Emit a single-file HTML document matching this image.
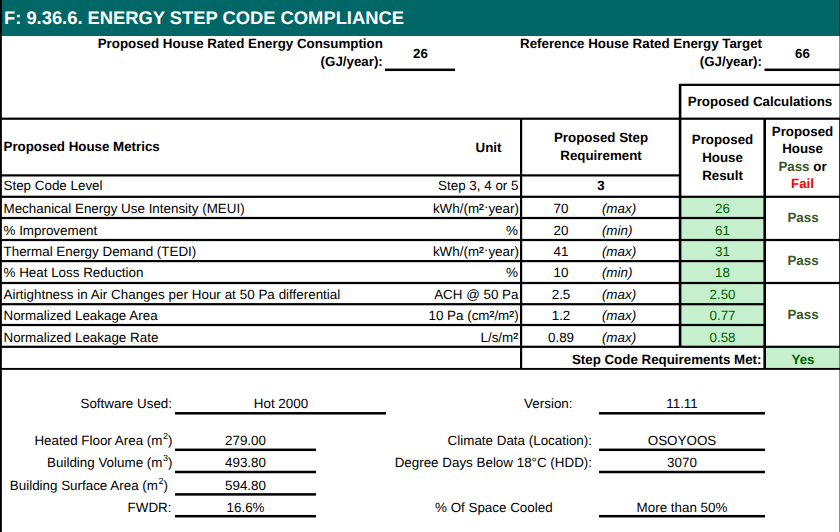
<!DOCTYPE html>
<html><head><meta charset="utf-8"><title>Energy Step Code Compliance</title>
<style>
html,body{margin:0;padding:0;background:#fff;}
body{width:840px;height:532px;position:relative;overflow:hidden;text-rendering:geometricPrecision;font-family:"Liberation Sans",Arial,sans-serif;color:#000;}
svg.bg{position:absolute;left:0;top:0;}
.t{position:absolute;white-space:nowrap;}
.b{font-weight:bold;}
.i{font-style:italic;}
.g{color:#006100;}
.p{color:#375623;font-weight:bold;}
.f{color:#ff0000;font-weight:bold;}
sup.s{font-size:9px;line-height:0;position:relative;top:-6.3px;vertical-align:baseline;margin-left:0.6px;}
.u2{font-size:14.6px;line-height:0;position:relative;top:0.8px;-webkit-text-stroke:0.2px currentColor;}
.md{position:relative;top:-2px;}
</style></head><body>
<svg class="bg" width="840" height="532" viewBox="0 0 840 532">
<rect x="0.00" y="0.00" width="840.00" height="36.00" fill="#006666"/>
<rect x="681.00" y="196.80" width="83.50" height="21.20" fill="#c6efce"/>
<rect x="681.00" y="218.00" width="83.50" height="22.00" fill="#c6efce"/>
<rect x="681.00" y="240.00" width="83.50" height="21.10" fill="#c6efce"/>
<rect x="681.00" y="261.10" width="83.50" height="21.90" fill="#c6efce"/>
<rect x="681.00" y="283.00" width="83.50" height="21.20" fill="#c6efce"/>
<rect x="681.00" y="304.20" width="83.50" height="20.80" fill="#c6efce"/>
<rect x="681.00" y="325.00" width="83.50" height="21.80" fill="#c6efce"/>
<rect x="766.00" y="346.80" width="74.00" height="22.10" fill="#c6efce"/>
<rect x="-0.05" y="0.00" width="1.90" height="532.00" fill="#000"/>
<rect x="839.20" y="118.00" width="0.80" height="229.00" fill="#000"/>
<rect x="839.56" y="0.00" width="0.44" height="118.00" fill="#000"/>
<rect x="839.56" y="347.00" width="0.44" height="185.00" fill="#000"/>
<rect x="0.00" y="117.60" width="840.00" height="2.20" fill="#000"/>
<rect x="679.00" y="83.75" width="161.00" height="2.20" fill="#000"/>
<rect x="385.00" y="68.55" width="70.00" height="2.50" fill="#000"/>
<rect x="764.50" y="68.55" width="75.50" height="2.50" fill="#000"/>
<rect x="0.00" y="174.30" width="680.00" height="2.20" fill="#000"/>
<rect x="0.00" y="195.70" width="840.00" height="2.20" fill="#000"/>
<rect x="0.00" y="216.90" width="765.00" height="2.20" fill="#000"/>
<rect x="0.00" y="238.90" width="840.00" height="2.20" fill="#000"/>
<rect x="0.00" y="260.00" width="765.00" height="2.20" fill="#000"/>
<rect x="0.00" y="281.90" width="840.00" height="2.20" fill="#000"/>
<rect x="0.00" y="303.10" width="765.00" height="2.20" fill="#000"/>
<rect x="0.00" y="323.90" width="765.00" height="2.20" fill="#000"/>
<rect x="0.00" y="345.70" width="840.00" height="2.20" fill="#000"/>
<rect x="0.00" y="367.95" width="840.00" height="1.90" fill="#000"/>
<rect x="520.00" y="118.00" width="2.20" height="251.00" fill="#000"/>
<rect x="678.80" y="84.00" width="2.60" height="262.80" fill="#000"/>
<rect x="763.40" y="118.00" width="2.60" height="251.00" fill="#000"/>
<rect x="175.00" y="412.05" width="211.00" height="2.50" fill="#000"/>
<rect x="599.00" y="412.05" width="166.00" height="2.50" fill="#000"/>
<rect x="175.00" y="448.55" width="141.00" height="2.50" fill="#000"/>
<rect x="175.00" y="470.75" width="141.00" height="2.50" fill="#000"/>
<rect x="175.00" y="493.15" width="141.00" height="2.50" fill="#000"/>
<rect x="175.00" y="514.95" width="141.00" height="2.50" fill="#000"/>
<rect x="599.00" y="448.55" width="166.00" height="2.50" fill="#000"/>
<rect x="599.00" y="470.75" width="166.00" height="2.50" fill="#000"/>
<rect x="599.00" y="514.95" width="166.00" height="2.50" fill="#000"/>
</svg>
<div class="t b" style="top:9.07px;font-size:18.35px;line-height:18.35px;left:4px;color:#fff;">F: 9.36.6. ENERGY STEP CODE COMPLIANCE</div>
<div class="t b" style="top:37.00px;font-size:13.33px;line-height:13.33px;right:457.20px;text-align:right;">Proposed House Rated Energy Consumption</div>
<div class="t b" style="top:55.00px;font-size:13.33px;line-height:13.33px;right:457.20px;text-align:right;">(GJ/year):</div>
<div class="t b" style="top:47.00px;font-size:13.33px;line-height:13.33px;left:270.5px;width:300px;text-align:center;">26</div>
<div class="t b" style="top:37.00px;font-size:13.33px;line-height:13.33px;right:78.00px;text-align:right;">Reference House Rated Energy Target</div>
<div class="t b" style="top:55.00px;font-size:13.33px;line-height:13.33px;right:78.00px;text-align:right;">(GJ/year):</div>
<div class="t b" style="top:47.00px;font-size:13.33px;line-height:13.33px;left:652.5px;width:300px;text-align:center;">66</div>
<div class="t b" style="top:95.00px;font-size:13.33px;line-height:13.33px;left:610.0px;width:300px;text-align:center;">Proposed Calculations</div>
<div class="t b" style="top:140.00px;font-size:13.33px;line-height:13.33px;left:3.5px;">Proposed House Metrics</div>
<div class="t b" style="top:141.00px;font-size:13.33px;line-height:13.33px;left:338.5px;width:300px;text-align:center;">Unit</div>
<div class="t b" style="top:131.00px;font-size:13.33px;line-height:13.33px;left:451.0px;width:300px;text-align:center;">Proposed Step</div>
<div class="t b" style="top:149.00px;font-size:13.33px;line-height:13.33px;left:451.0px;width:300px;text-align:center;">Requirement</div>
<div class="t b" style="top:133.00px;font-size:13.33px;line-height:13.33px;left:572.5px;width:300px;text-align:center;">Proposed</div>
<div class="t b" style="top:151.00px;font-size:13.33px;line-height:13.33px;left:572.5px;width:300px;text-align:center;">House</div>
<div class="t b" style="top:169.00px;font-size:13.33px;line-height:13.33px;left:572.5px;width:300px;text-align:center;">Result</div>
<div class="t b" style="top:125.00px;font-size:13.33px;line-height:13.33px;left:652.5px;width:300px;text-align:center;">Proposed</div>
<div class="t b" style="top:142.00px;font-size:13.33px;line-height:13.33px;left:652.5px;width:300px;text-align:center;">House</div>
<div class="t b" style="top:160.00px;font-size:13.33px;line-height:13.33px;left:652.5px;width:300px;text-align:center;"><span class="p">Pass</span> or</div>
<div class="t f" style="top:177.00px;font-size:13.33px;line-height:13.33px;left:652.5px;width:300px;text-align:center;">Fail</div>
<div class="t " style="top:179.00px;font-size:13.4px;line-height:13.4px;left:3.5px;">Step Code Level</div>
<div class="t " style="top:179.00px;font-size:13.4px;line-height:13.4px;right:321.50px;text-align:right;">Step 3, 4 or 5</div>
<div class="t b" style="top:179.00px;font-size:13.33px;line-height:13.33px;left:451.0px;width:300px;text-align:center;">3</div>
<div class="t " style="top:202.00px;font-size:13.4px;line-height:13.4px;left:3.5px;">Mechanical Energy Use Intensity (MEUI)</div>
<div class="t " style="top:202.00px;font-size:13.4px;line-height:13.4px;right:321.10px;text-align:right;">kWh/(m<span class="u2">²</span><span class="md">·</span>year)</div>
<div class="t " style="top:202.00px;font-size:13.4px;line-height:13.4px;left:411.0px;width:300px;text-align:center;">70</div>
<div class="t i" style="top:202.00px;font-size:13.4px;line-height:13.4px;left:601.9px;">(max)</div>
<div class="t g" style="top:202.00px;font-size:13.4px;line-height:13.4px;left:572.5px;width:300px;text-align:center;">26</div>
<div class="t " style="top:224.00px;font-size:13.4px;line-height:13.4px;left:3.5px;">% Improvement</div>
<div class="t " style="top:224.00px;font-size:13.4px;line-height:13.4px;right:322.20px;text-align:right;">%</div>
<div class="t " style="top:224.00px;font-size:13.4px;line-height:13.4px;left:411.0px;width:300px;text-align:center;">20</div>
<div class="t i" style="top:224.00px;font-size:13.4px;line-height:13.4px;left:601.9px;">(min)</div>
<div class="t g" style="top:224.00px;font-size:13.4px;line-height:13.4px;left:572.5px;width:300px;text-align:center;">61</div>
<div class="t " style="top:245.00px;font-size:13.4px;line-height:13.4px;left:3.5px;">Thermal Energy Demand (TEDI)</div>
<div class="t " style="top:245.00px;font-size:13.4px;line-height:13.4px;right:321.10px;text-align:right;">kWh/(m<span class="u2">²</span><span class="md">·</span>year)</div>
<div class="t " style="top:245.00px;font-size:13.4px;line-height:13.4px;left:411.0px;width:300px;text-align:center;">41</div>
<div class="t i" style="top:245.00px;font-size:13.4px;line-height:13.4px;left:601.9px;">(max)</div>
<div class="t g" style="top:245.00px;font-size:13.4px;line-height:13.4px;left:572.5px;width:300px;text-align:center;">31</div>
<div class="t " style="top:266.00px;font-size:13.4px;line-height:13.4px;left:3.5px;">% Heat Loss Reduction</div>
<div class="t " style="top:266.00px;font-size:13.4px;line-height:13.4px;right:322.20px;text-align:right;">%</div>
<div class="t " style="top:266.00px;font-size:13.4px;line-height:13.4px;left:411.0px;width:300px;text-align:center;">10</div>
<div class="t i" style="top:266.00px;font-size:13.4px;line-height:13.4px;left:601.9px;">(min)</div>
<div class="t g" style="top:266.00px;font-size:13.4px;line-height:13.4px;left:572.5px;width:300px;text-align:center;">18</div>
<div class="t " style="top:288.00px;font-size:13.4px;line-height:13.4px;left:3.5px;word-spacing:0.14px;">Airtightness in Air Changes per Hour at 50 Pa differential</div>
<div class="t " style="top:288.00px;font-size:13.4px;line-height:13.4px;right:321.50px;text-align:right;">ACH @ 50 Pa</div>
<div class="t " style="top:288.00px;font-size:13.4px;line-height:13.4px;left:411.0px;width:300px;text-align:center;">2.5</div>
<div class="t i" style="top:288.00px;font-size:13.4px;line-height:13.4px;left:601.9px;">(max)</div>
<div class="t g" style="top:288.00px;font-size:13.4px;line-height:13.4px;left:572.5px;width:300px;text-align:center;">2.50</div>
<div class="t " style="top:309.00px;font-size:13.4px;line-height:13.4px;left:3.5px;">Normalized Leakage Area</div>
<div class="t " style="top:309.00px;font-size:13.4px;line-height:13.4px;right:321.40px;text-align:right;">10 Pa (cm<span class="u2">²</span>/m<span class="u2">²</span>)</div>
<div class="t " style="top:309.00px;font-size:13.4px;line-height:13.4px;left:411.0px;width:300px;text-align:center;">1.2</div>
<div class="t i" style="top:309.00px;font-size:13.4px;line-height:13.4px;left:601.9px;">(max)</div>
<div class="t g" style="top:309.00px;font-size:13.4px;line-height:13.4px;left:572.5px;width:300px;text-align:center;">0.77</div>
<div class="t " style="top:331.00px;font-size:13.4px;line-height:13.4px;left:3.5px;">Normalized Leakage Rate</div>
<div class="t " style="top:331.00px;font-size:13.4px;line-height:13.4px;right:321.90px;text-align:right;">L/s/m<span class="u2">²</span></div>
<div class="t " style="top:331.00px;font-size:13.4px;line-height:13.4px;left:411.0px;width:300px;text-align:center;">0.89</div>
<div class="t i" style="top:331.00px;font-size:13.4px;line-height:13.4px;left:601.9px;">(max)</div>
<div class="t g" style="top:331.00px;font-size:13.4px;line-height:13.4px;left:572.5px;width:300px;text-align:center;">0.58</div>
<div class="t b" style="top:353.00px;font-size:13.33px;line-height:13.33px;right:78.50px;text-align:right;">Step Code Requirements Met:</div>
<div class="t g b" style="top:353.00px;font-size:13.33px;line-height:13.33px;left:653.0px;width:300px;text-align:center;">Yes</div>
<div class="t p" style="top:211.00px;font-size:13.33px;line-height:13.33px;left:653.0px;width:300px;text-align:center;">Pass</div>
<div class="t p" style="top:254.00px;font-size:13.33px;line-height:13.33px;left:653.0px;width:300px;text-align:center;">Pass</div>
<div class="t p" style="top:308.00px;font-size:13.33px;line-height:13.33px;left:653.0px;width:300px;text-align:center;">Pass</div>
<div class="t " style="top:397.00px;font-size:13.4px;line-height:13.4px;right:668.00px;text-align:right;">Software Used:</div>
<div class="t " style="top:397.00px;font-size:13.4px;line-height:13.4px;left:131.0px;width:300px;text-align:center;">Hot 2000</div>
<div class="t " style="top:397.00px;font-size:13.4px;line-height:13.4px;right:267.50px;text-align:right;">Version:</div>
<div class="t " style="top:397.00px;font-size:13.4px;line-height:13.4px;left:532.0px;width:300px;text-align:center;">11.11</div>
<div class="t " style="top:434.00px;font-size:13.4px;line-height:13.4px;right:667.50px;text-align:right;">Heated Floor Area (m<sup class="s">2</sup>)</div>
<div class="t " style="top:434.00px;font-size:13.4px;line-height:13.4px;left:95.5px;width:300px;text-align:center;">279.00</div>
<div class="t " style="top:456.00px;font-size:13.4px;line-height:13.4px;right:667.50px;text-align:right;">Building Volume (m<sup class="s">3</sup>)</div>
<div class="t " style="top:456.00px;font-size:13.4px;line-height:13.4px;left:95.5px;width:300px;text-align:center;">493.80</div>
<div class="t " style="top:479.00px;font-size:13.4px;line-height:13.4px;right:672.00px;text-align:right;">Building Surface Area (m<sup class="s">2</sup>)</div>
<div class="t " style="top:479.00px;font-size:13.4px;line-height:13.4px;left:95.5px;width:300px;text-align:center;">594.80</div>
<div class="t " style="top:501.00px;font-size:13.4px;line-height:13.4px;right:668.50px;text-align:right;">FWDR:</div>
<div class="t " style="top:501.00px;font-size:13.4px;line-height:13.4px;left:95.5px;width:300px;text-align:center;">16.6%</div>
<div class="t " style="top:434.00px;font-size:13.4px;line-height:13.4px;right:248.00px;text-align:right;">Climate Data (Location):</div>
<div class="t " style="top:434.00px;font-size:13.4px;line-height:13.4px;left:532.0px;width:300px;text-align:center;">OSOYOOS</div>
<div class="t " style="top:456.00px;font-size:13.4px;line-height:13.4px;right:248.00px;text-align:right;">Degree Days Below 18°C (HDD):</div>
<div class="t " style="top:456.00px;font-size:13.4px;line-height:13.4px;left:532.0px;width:300px;text-align:center;">3070</div>
<div class="t " style="top:501.00px;font-size:13.4px;line-height:13.4px;left:435px;">% Of Space Cooled</div>
<div class="t " style="top:501.00px;font-size:13.4px;line-height:13.4px;left:532.0px;width:300px;text-align:center;">More than 50%</div>
</body></html>
